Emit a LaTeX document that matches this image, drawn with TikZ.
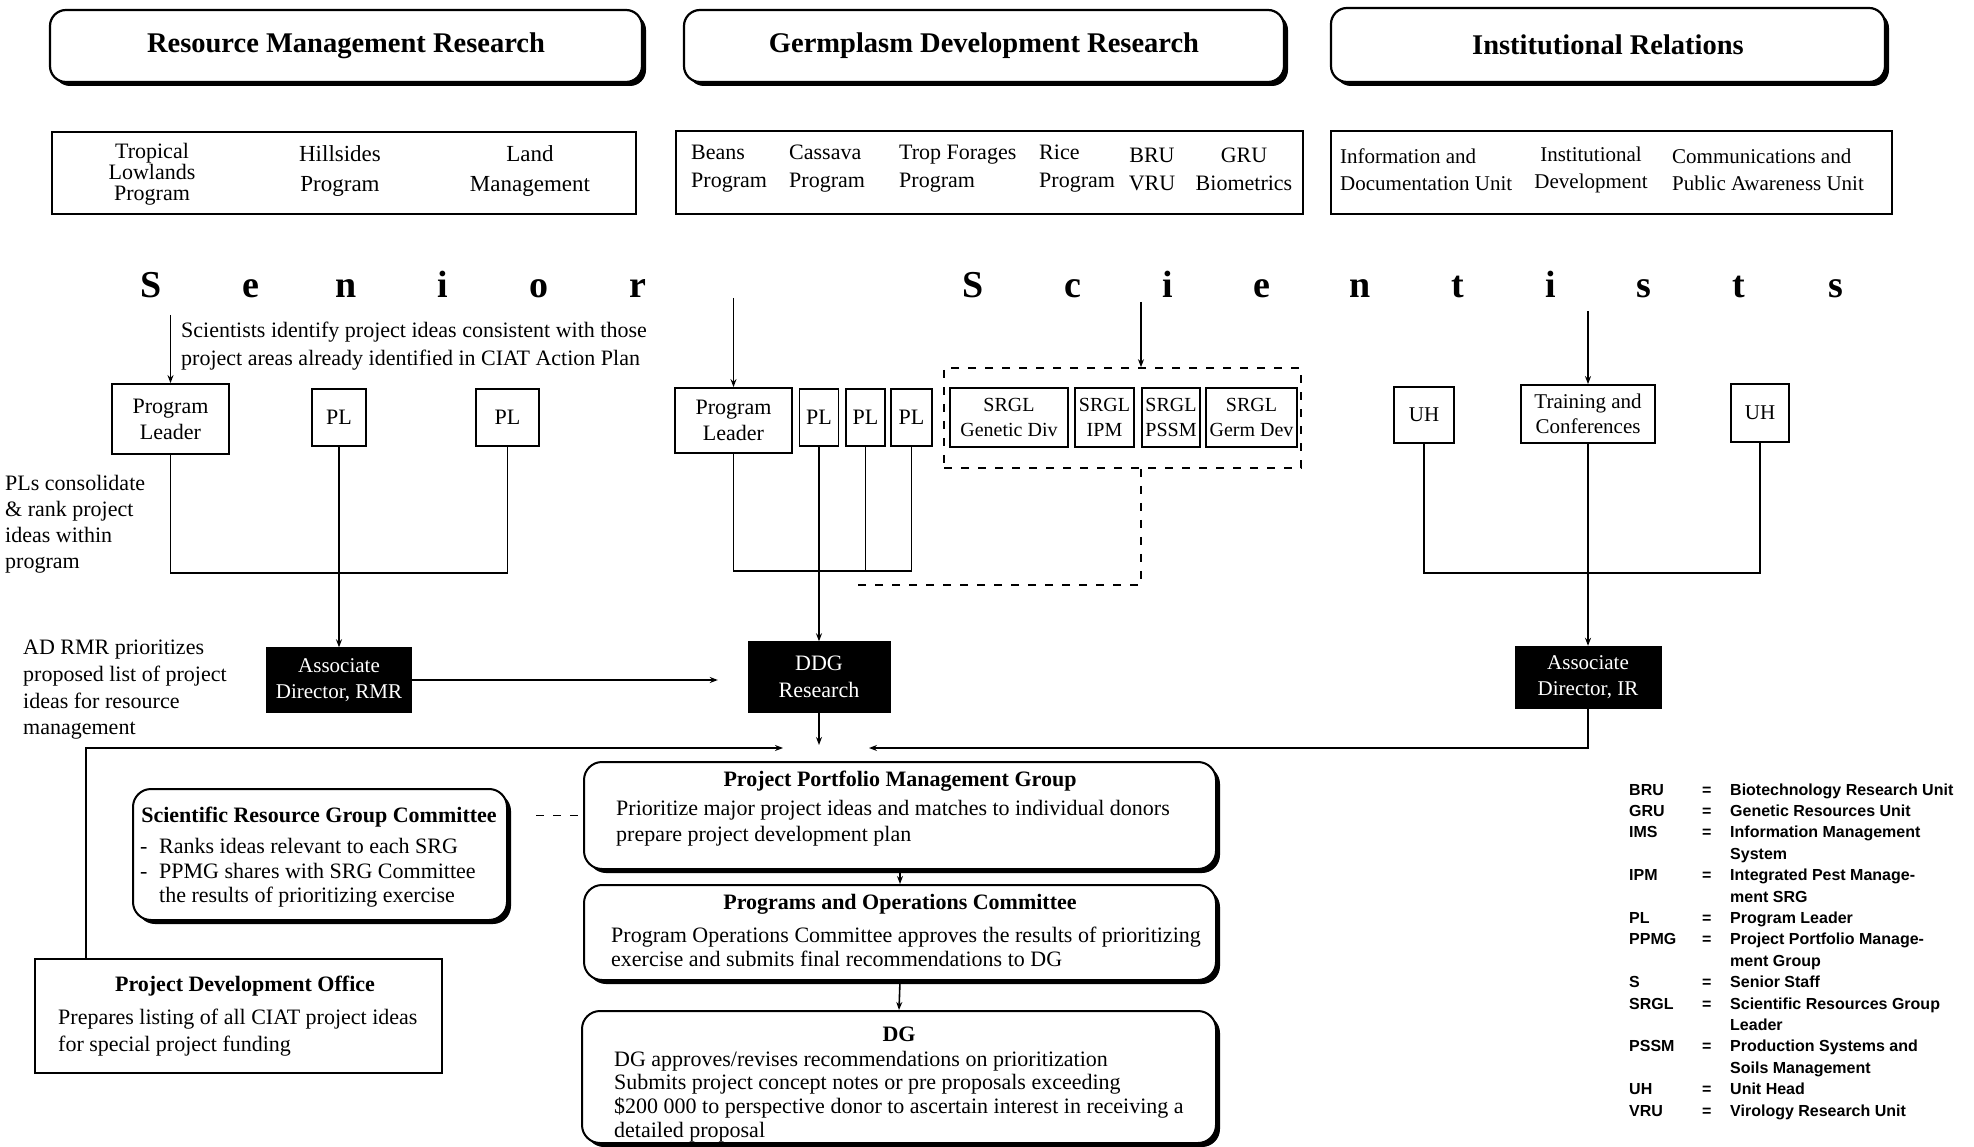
\documentclass[tikz,border=0pt]{standalone}
\usepackage{fontspec}
\setmainfont{Liberation Serif}
\newfontfamily\legendfont{Liberation Sans}
\usetikzlibrary{arrows.meta,shadows}

\newcommand\sz[2]{\fontsize{#1}{#2}\selectfont}

\tikzset{
  hdrbox/.style={draw,line width=2.2pt,rounded corners=16pt,fill=white,
    drop shadow={shadow xshift=4pt,shadow yshift=-4pt,opacity=1,fill=black},
    font=\sz{28.5}{32}\bfseries,inner sep=0pt},
  subbox/.style={draw,line width=1.8pt,inner sep=0pt},
  txt/.style={inner sep=0pt,font=\sz{22}{26}},
  bigl/.style={inner sep=0pt,font=\sz{38}{40}\bfseries},
  ubox/.style={draw,line width=1.8pt,inner sep=1pt,align=center,font=\sz{22}{26}},
  gbox/.style={draw,line width=1.8pt,inner sep=1pt,align=center,font=\sz{20}{25}},
  darkbox/.style={draw=black,fill=black,text=white,inner sep=0pt,align=center,font=\sz{21}{26}},
  rbox/.style={draw,line width=2pt,rounded corners=18pt,fill=white,
    drop shadow={shadow xshift=4pt,shadow yshift=-4pt,opacity=1,fill=black}},
  pbox/.style={draw,line width=1.6pt,fill=white},
  link/.style={line width=1.6pt},
  arr/.style={link,-{Stealth[length=8pt,width=6pt]}},
  dsh/.style={line width=1.6pt,dash pattern=on 8pt off 9pt},
  ttl/.style={inner sep=0pt,font=\sz{22}{26}\bfseries}
}

\begin{document}
\begin{tikzpicture}[x=1pt,y=-1pt]
\useasboundingbox (0,0) rectangle (1974,1147);
\fill[white] (0,0) rectangle (1974,1147);

% ---- division headers
\node[hdrbox,minimum width=592pt,minimum height=72pt] (hrmr) at (346,46) {Resource Management Research};
\node[hdrbox,minimum width=600pt,minimum height=72pt] (hgdr) at (984,46) {Germplasm Development Research};
\node[hdrbox,minimum width=554pt,minimum height=74pt] (hir) at (1608,45) {Institutional Relations};

% ---- programme / unit strips
\node[subbox,minimum width=584pt,minimum height=82pt] (srmr) at (344,173) {};
\node[subbox,minimum width=627pt,minimum height=83pt] (sgdr) at (989.5,172.5) {};
\node[subbox,minimum width=561pt,minimum height=83pt] (sir) at (1611.5,172.5) {};

\node[txt,align=center,font=\sz{22}{21}] (tlp) at (152,174) {Tropical\\Lowlands\\Program};
\node[txt,align=center,font=\sz{23}{30}] (hsp) at (340,171) {Hillsides\\Program};
\node[txt,align=center,font=\sz{23}{30}] (lmg) at (530,171) {Land\\Management};

\node[txt,align=left,anchor=west,font=\sz{22}{28}] (bnp) at (691,169) {Beans\\Program};
\node[txt,align=left,anchor=west,font=\sz{22}{28}] (csp) at (789,169) {Cassava\\Program};
\node[txt,align=left,anchor=west,font=\sz{22}{28}] (tfp) at (899,169) {Trop Forages\\Program};
\node[txt,align=left,anchor=west,font=\sz{22}{28}] (rcp) at (1039,169) {Rice\\Program};
\node[txt,align=center,font=\sz{22}{28}] (bvr) at (1152,169) {BRU\\VRU};
\node[txt,align=center,font=\sz{22}{28}] (grb) at (1244,169) {GRU\\Biometrics};

\node[txt,align=left,anchor=west,font=\sz{21}{27}] (idu) at (1340,170) {Information and\\Documentation Unit};
\node[txt,align=center,font=\sz{21}{27}] (ind) at (1591,170) {Institutional\\Development};
\node[txt,align=left,anchor=west,font=\sz{21}{27}] (cpa) at (1672,170) {Communications and\\Public Awareness Unit};

% ---- Senior Scientists banner
\foreach \ch/\xx [count=\i] in {S/151,e/251,n/346,i/443,o/539,r/638,S/973,c/1073,i/1168,e/1262,n/1360,t/1458,i/1551,s/1644,t/1739,s/1836}
  \node[bigl,anchor=base] (ss\i) at (\xx,298) {\ch};

\node[txt,align=left,anchor=west,font=\sz{22}{28}] (idnote) at (181,346)
  {Scientists identify project ideas consistent with those\\project areas already identified in CIAT Action Plan};

% ---- Resource Management Research column
\node[ubox,minimum width=117pt,minimum height=70pt] (pr0) at (170.5,419) {Program\\Leader};
\node[ubox,minimum width=54pt,minimum height=57pt] (pr1) at (339,417.5) {PL};
\node[ubox,minimum width=63pt,minimum height=57pt] (pr2) at (507.5,417.5) {PL};

\node[txt,align=left,anchor=west,font=\sz{22}{26}] (plnote) at (5,524)
  {PLs consolidate\\\& rank project\\ideas within\\program};

\node[darkbox,minimum width=145pt,minimum height=65pt] (adrmr) at (339,680) {Associate\\Director, RMR};

\node[txt,align=left,anchor=west,font=\sz{22}{26.7}] (adnote) at (23,690)
  {AD RMR prioritizes\\proposed list of project\\ideas for resource\\management};

% ---- Germplasm Development Research column
\node[ubox,minimum width=117pt,minimum height=65pt] (pg0) at (733.5,420.5) {Program\\Leader};
\node[ubox,minimum width=39pt,minimum height=57pt] (pg1) at (819,417.5) {PL};
\node[ubox,minimum width=39pt,minimum height=57pt] (pg2) at (865.5,417.5) {PL};
\node[ubox,minimum width=41pt,minimum height=57pt] (pg3) at (911.5,417.5) {PL};

\node[dsh,draw,minimum width=357pt,minimum height=100pt,inner sep=0pt] (srgbox) at (1122.5,418) {};
\node[gbox,minimum width=118pt,minimum height=59pt] (g1) at (1009,417.5) {SRGL\\Genetic Div};
\node[gbox,minimum width=59pt,minimum height=59pt] (g2) at (1104.5,417.5) {SRGL\\IPM};
\node[gbox,minimum width=58pt,minimum height=59pt] (g3) at (1171,417.5) {SRGL\\PSSM};
\node[gbox,minimum width=91pt,minimum height=59pt] (g4) at (1251.5,417.5) {SRGL\\Germ Dev};

\node[darkbox,minimum width=142pt,minimum height=71pt,font=\sz{22}{27}] (ddg) at (819,677) {DDG\\Research};

% ---- Institutional Relations column
\node[ubox,minimum width=60pt,minimum height=56pt,font=\sz{21}{26}] (uh1) at (1424,415) {UH};
\node[ubox,minimum width=134pt,minimum height=58pt,font=\sz{21}{25}] (tc) at (1588,414) {Training and\\Conferences};
\node[ubox,minimum width=58pt,minimum height=58pt,font=\sz{21}{26}] (uh2) at (1760,413) {UH};

\node[darkbox,minimum width=146pt,minimum height=62pt] (adir) at (1588,677) {Associate\\Director, IR};

% ---- review chain
\node[rbox,minimum width=632pt,minimum height=107pt] (ppmg) at (900,815.5) {};
\node[ttl] (ppmgt) at (900,781) {Project Portfolio Management Group};
\node[txt,align=left,anchor=west,font=\sz{22}{26}] (ppmgb) at (616,823)
  {Prioritize major project ideas and matches to individual donors\\prepare project development plan};

\node[rbox,minimum width=632pt,minimum height=95pt] (poc) at (900,932.5) {};
\node[ttl] (poct) at (900,904) {Programs and Operations Committee};
\node[txt,align=left,anchor=west,font=\sz{22}{24}] (pocb) at (611,947)
  {Program Operations Committee approves the results of prioritizing\\exercise and submits final recommendations to DG};

\node[rbox,minimum width=634pt,minimum height=132pt] (dg) at (899,1077) {};
\node[ttl] (dgt) at (899,1034) {DG};
\node[txt,align=left,anchor=west,font=\sz{22}{23.7}] (dgb) at (614,1096.5)
  {DG approves/revises recommendations on prioritization\\Submits project concept notes or pre proposals exceeding\\\$200 000 to perspective donor to ascertain interest in receiving a\\detailed proposal};

\node[rbox,minimum width=374pt,minimum height=131pt] (srgc) at (320,854.5) {};
\node[ttl] (srgct) at (319,817) {Scientific Resource Group Committee};
\node[txt,align=left,anchor=west,font=\sz{22}{24.5}] (srgcb) at (140,873)
  {\makebox[19pt][l]{-}Ranks ideas relevant to each SRG\\\makebox[19pt][l]{-}PPMG shares with SRG Committee\\\hspace*{19pt}the results of prioritizing exercise};

\node[pbox,minimum width=407pt,minimum height=114pt] (pdo) at (238.5,1016) {};
\node[ttl] (pdot) at (245,986) {Project Development Office};
\node[txt,align=left,anchor=west,font=\sz{22}{27}] (pdob) at (58,1032.5)
  {Prepares listing of all CIAT project ideas\\for special project funding};

% ---- connectors: RMR
\coordinate (aR) at (170.5,315);
\draw[arr] (aR) -- (pr0.north);
\coordinate (jR) at (339,573);
\draw[link] (pr0.south) |- (jR) -| (pr2.south);
\draw[arr] (pr1.south) -- (adrmr.north);
\draw[arr,shorten >=30pt] (adrmr.east) -- (adrmr.east -| ddg.west);

% ---- connectors: GDR
\coordinate (aG) at (733.5,298);
\draw[arr] (aG) -- (pg0.north);
\coordinate (jG) at (911.5,571);
\draw[link] (pg0.south) |- (jG) -- (pg3.south);
\draw[link] (pg2.south) -- (pg2.south |- jG);
\draw[arr] (pg1.south) -- (ddg.north);
\coordinate (aS) at (1141,302);
\draw[arr] (aS) -- (aS |- srgbox.north);
\coordinate (jD) at (850,585);
\draw[dsh] (aS |- srgbox.south) |- (jD);

% ---- connectors: IR
\coordinate (aI) at (1588,311);
\draw[arr] (aI) -- (tc.north);
\coordinate (jI) at (1588,573);
\draw[link] (uh1.south) |- (jI) -| (uh2.south);
\draw[link] (tc.south) -- (jI);
\draw[arr] (jI) -- (adir.north);

% ---- connectors into the review chain
\coordinate (eI) at (869,748);
\draw[arr] (adir.south) |- (eI);
\coordinate (eD) at (819,745);
\draw[arr] (ddg.south) -- (eD);
\coordinate (pL) at (86,959);
\coordinate (eL) at (783,748);
\draw[arr] (pL |- pdo.north) |- (eL);
\draw[arr] (ppmg.south) -- (poc.north);
\draw[arr] (poc.south) -- (dg.north);
\draw[dsh,shorten <=28pt,shorten >=4pt] (ppmg.west -| srgc.east) -- (ppmg.west);

% ---- abbreviations
\node[anchor=base west,inner sep=0pt,font=\legendfont\bfseries\sz{16}{21.4}] (legend) at (1629,795) {%
\begin{tabular}[t]{@{}p{73pt}@{}p{28pt}@{}l@{}}
BRU & = & Biotechnology Research Unit\\
GRU & = & Genetic Resources Unit\\
IMS & = & Information Management\\
 & & System\\
IPM & = & Integrated Pest Manage-\\
 & & ment SRG\\
PL & = & Program Leader\\
PPMG & = & Project Portfolio Manage-\\
 & & ment Group\\
S & = & Senior Staff\\
SRGL & = & Scientific Resources Group\\
 & & Leader\\
PSSM & = & Production Systems and\\
 & & Soils Management\\
UH & = & Unit Head\\
VRU & = & Virology Research Unit
\end{tabular}};
\end{tikzpicture}
\end{document}
